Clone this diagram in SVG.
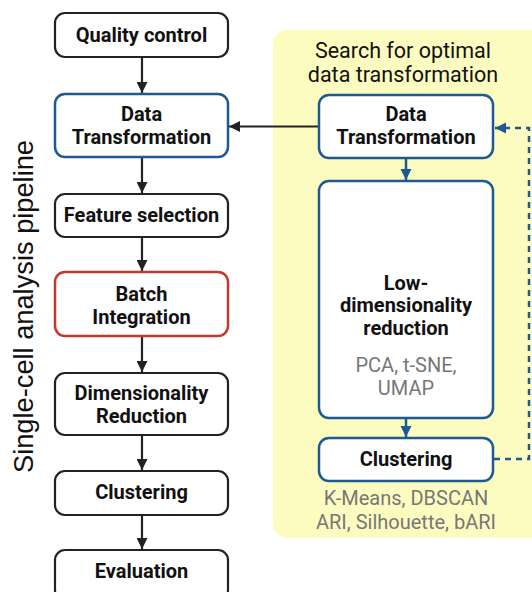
<svg xmlns="http://www.w3.org/2000/svg" width="532" height="592" viewBox="0 0 532 592">
<style>
.box{fill:#fff;stroke:#222;stroke-width:2.2}
.blue{fill:#fff;stroke:#1d5a92;stroke-width:2.5}
.red{fill:#fff;stroke:#c23a2e;stroke-width:2.5}
.t{font-family:Roboto,"Liberation Sans",sans-serif;font-weight:bold;font-size:20px;fill:#111;text-anchor:middle;dominant-baseline:central}
.g{font-family:Roboto,"Liberation Sans",sans-serif;font-size:20px;fill:#777;text-anchor:middle;dominant-baseline:central}
.h{font-family:Roboto,"Liberation Sans",sans-serif;font-size:21.5px;fill:#111;text-anchor:middle;dominant-baseline:central}
.v{font-family:"Liberation Sans",Arial,sans-serif;font-size:27px;fill:#111;text-anchor:middle}
.k{stroke:#222;stroke-width:2.2;fill:none}
.b{stroke:#1d5a92;stroke-width:2.5;fill:none}
</style>
<defs>
<marker id="ak" viewBox="0 0 10 10" refX="10" refY="5" markerWidth="5" markerHeight="5" orient="auto" markerUnits="strokeWidth"><path d="M0,0L10,5L0,10z" fill="#222"/></marker>
<marker id="ab" viewBox="0 0 10 10" refX="10" refY="5" markerWidth="4.5" markerHeight="4.5" orient="auto" markerUnits="strokeWidth"><path d="M0,0L10,5L0,10z" fill="#1d5a92"/></marker>
</defs>
<rect id="panel" x="273" y="30" width="275" height="508" rx="14" fill="#fdfcc0"/>
<text class="h" x="403" y="50">Search for optimal</text>
<text class="h" x="403" y="74">data transformation</text>
<text class="v" transform="translate(33,306.5) rotate(-90)" x="0" y="0" textLength="333" lengthAdjust="spacingAndGlyphs">Single-cell analysis pipeline</text>
<g id="connectors">
<line class="k" x1="142" y1="58" x2="142" y2="93" marker-end="url(#ak)"/>
<line class="k" x1="142" y1="158" x2="142" y2="193" marker-end="url(#ak)"/>
<line class="k" x1="142" y1="238" x2="142" y2="271" marker-end="url(#ak)"/>
<line class="k" x1="142" y1="337" x2="142" y2="372" marker-end="url(#ak)"/>
<line class="k" x1="142" y1="436" x2="142" y2="470" marker-end="url(#ak)"/>
<line class="k" x1="142" y1="516" x2="142" y2="549" marker-end="url(#ak)"/>
<line class="k" x1="319" y1="126.5" x2="229" y2="126.5" marker-end="url(#ak)"/>
<line class="b" x1="406" y1="159" x2="406" y2="180" marker-end="url(#ab)"/>
<line class="b" x1="406" y1="419" x2="406" y2="437" marker-end="url(#ab)"/>
<path class="b" d="M494,459H529V128H495" stroke-dasharray="6,5" marker-end="url(#ab)"/>
</g>
<g id="qc"><rect class="box" x="55" y="13" width="173" height="44" rx="10"/><text class="t" x="141.5" y="35">Quality control</text></g>
<g id="dt"><rect class="blue" x="55" y="94" width="173" height="63" rx="10"/><text class="t" x="141.5" y="114">Data</text><text class="t" x="141.5" y="137">Transformation</text></g>
<g id="fs"><rect class="box" x="55" y="194" width="173" height="43" rx="10"/><text class="t" x="141.5" y="215">Feature selection</text></g>
<g id="bi"><rect class="red" x="55" y="272" width="173" height="64" rx="10"/><text class="t" x="141.5" y="294">Batch</text><text class="t" x="141.5" y="317">Integration</text></g>
<g id="dr"><rect class="box" x="55" y="373" width="173" height="62" rx="10"/><text class="t" x="141.5" y="393">Dimensionality</text><text class="t" x="141.5" y="416">Reduction</text></g>
<g id="cl"><rect class="box" x="55" y="471" width="173" height="44" rx="10"/><text class="t" x="141.5" y="492">Clustering</text></g>
<g id="ev"><rect class="box" x="55" y="550" width="173" height="50" rx="10"/><text class="t" x="141.5" y="571">Evaluation</text></g>
<g id="dt2"><rect class="blue" x="319" y="95" width="174" height="63" rx="10"/><text class="t" x="406" y="114">Data</text><text class="t" x="406" y="137">Transformation</text></g>
<g id="ldr"><rect class="blue" x="319" y="181" width="174" height="237" rx="10"/><text class="t" x="406" y="283">Low-</text><text class="t" x="406" y="305">dimensionality</text><text class="t" x="406" y="328">reduction</text><text class="g" x="406" y="365">PCA, t-SNE,</text><text class="g" x="406" y="388">UMAP</text></g>
<g id="cl2"><rect class="blue" x="319" y="438" width="174" height="43" rx="10"/><text class="t" x="406" y="459">Clustering</text></g>
<text class="g" x="406" y="498">K-Means, DBSCAN</text>
<text class="g" x="406" y="522">ARI, Silhouette, bARI</text>
</svg>
